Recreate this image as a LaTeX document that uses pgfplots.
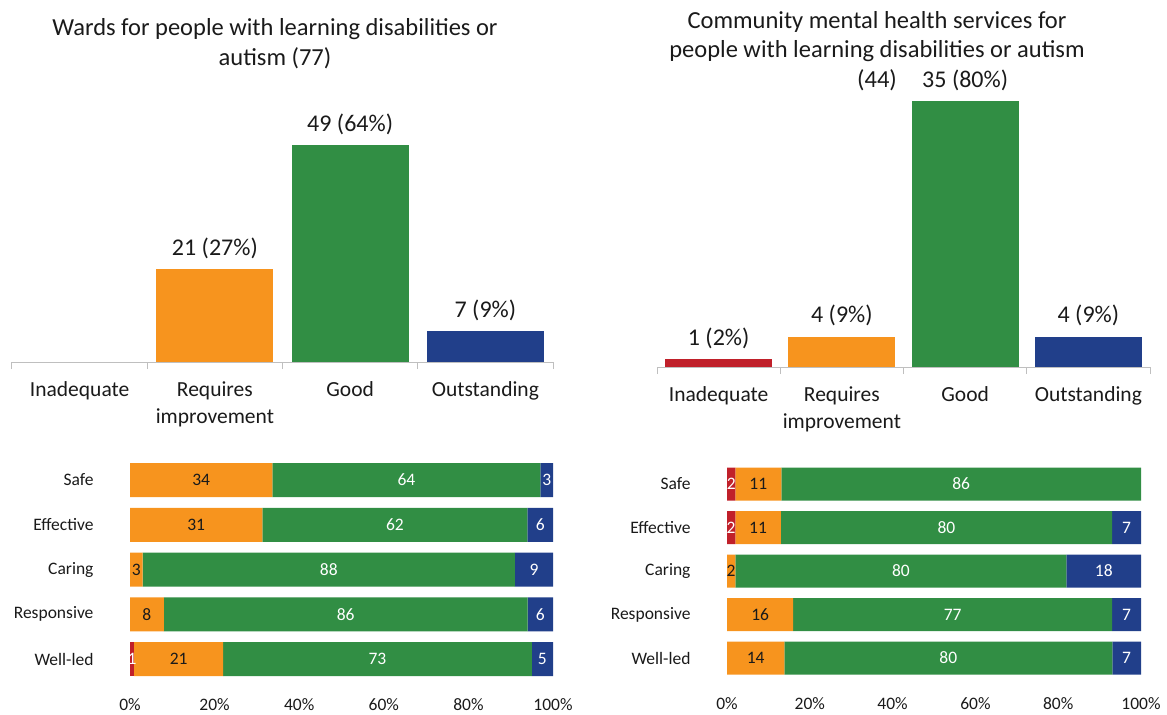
\documentclass[border=0pt]{standalone}
\usepackage{fontspec}
\setmainfont{Carlito}
\usepackage{pgfplots}
\pgfplotsset{compat=1.18}

\definecolor{rInad}{HTML}{C0202A}
\definecolor{rReq}{HTML}{F7941E}
\definecolor{rGood}{HTML}{318E44}
\definecolor{rOut}{HTML}{213F8A}
\definecolor{axgray}{HTML}{BFBFBF}
\definecolor{txt}{HTML}{1A1A1A}

\pgfplotsset{
  ratingcols/.style={
    scale only axis,
    ybar,
    xmin=-0.5, xmax=3.5, ymin=0,
    axis x line*=bottom, axis y line=none,
    x axis line style={axgray, line width=1pt, -},
    xtick={0,1,2,3}, ytick=\empty,
    xticklabels={Inadequate,{Requires\\improvement},Good,Outstanding},
    xticklabel style={align=center, font=\fontsize{21.5}{27}\selectfont, text=txt, yshift=-16pt},
    major tick length=0pt,
    minor xtick={-0.5,0.5,1.5,2.5,3.5},
    minor tick length=7pt,
    tick align=outside,
    minor tick style={axgray, line width=1pt},
    point meta=explicit symbolic,
    nodes near coords,
    nodes near coords style={font=\fontsize{24}{28}\selectfont, text=txt, yshift=7pt},
    clip=false,
  },
  domainbars/.style={
    scale only axis,
    xbar stacked,
    xmin=0, xmax=100, ymin=-0.5, ymax=4.5, y dir=reverse,
    axis line style={draw=none},
    major tick length=0pt,
    ytick={0,1,2,3,4},
    yticklabels={Safe,Effective,Caring,Responsive,Well-led},
    xtick={0,20,40,60,80,100},
    xticklabels={0\%,20\%,40\%,60\%,80\%,100\%},
    yticklabel style={font=\fontsize{17.5}{21}\selectfont, text=txt, xshift=-33pt},
    xticklabel style={font=\fontsize{17.5}{21}\selectfont, text=txt, yshift=-14pt},
    point meta=explicit symbolic,
    nodes near coords,
    nodes near coords style={anchor=center, font=\fontsize{17.5}{21}\selectfont},
    clip=false,
  },
}

\begin{document}
\begin{tikzpicture}
\path (0,0) rectangle (1167pt,-711pt);

% titles
\node[align=center, font=\fontsize{24.5}{30}\selectfont, text=txt] at (275pt,-44pt)
  {Wards for people with learning disabilities or\\autism (77)};
\node[align=center, font=\fontsize{24.5}{29.5}\selectfont, text=txt] at (877pt,-51pt)
  {Community mental health services for\\people with learning disabilities or autism\\(44)};

% top left: wards
\begin{axis}[ratingcols, at={(12pt,-362pt)}, anchor=south west,
  width=541pt, height=265.2pt, ymax=60]
\addplot[fill=rReq, draw=none, bar width=117pt, bar shift=0pt] coordinates {(1,21) [21 (27\%)]};
\addplot[fill=rGood, draw=none, bar width=117pt, bar shift=0pt] coordinates {(2,49) [49 (64\%)]};
\addplot[fill=rOut, draw=none, bar width=117pt, bar shift=0pt] coordinates {(3,7) [7 (9\%)]};
\end{axis}

% top right: community services
\begin{axis}[ratingcols, at={(657pt,-367pt)}, anchor=south west,
  width=493pt, height=273.6pt, ymax=36]
\addplot[fill=rInad, draw=none, bar width=107pt, bar shift=0pt] coordinates {(0,1) [1 (2\%)]};
\addplot[fill=rReq, draw=none, bar width=107pt, bar shift=0pt] coordinates {(1,4) [4 (9\%)]};
\addplot[fill=rGood, draw=none, bar width=107pt, bar shift=0pt] coordinates {(2,35) [35 (80\%)]};
\addplot[fill=rOut, draw=none, bar width=107pt, bar shift=0pt] coordinates {(3,4) [4 (9\%)]};
\end{axis}

% bottom left: key questions, wards (bar lengths scaled to 100%)
\begin{axis}[domainbars, at={(130pt,-681.4pt)}, anchor=south west,
  width=423pt, height=223.75pt, bar width=34pt]
\addplot[fill=rInad, draw=none, nodes near coords style={text=white}] coordinates
  {(0,0) [\empty] (0,1) [\empty] (0,2) [\empty] (0,3) [\empty] (1,4) [1]};
\addplot[fill=rReq, draw=none, nodes near coords style={text=txt}] coordinates
  {(33.66,0) [34] (31.31,1) [31] (3,2) [3] (8,3) [8] (21,4) [21]};
\addplot[fill=rGood, draw=none, nodes near coords style={text=white}] coordinates
  {(63.37,0) [64] (62.63,1) [62] (88,2) [88] (86,3) [86] (73,4) [73]};
\addplot[fill=rOut, draw=none, nodes near coords style={text=white}] coordinates
  {(2.97,0) [3] (6.06,1) [6] (9,2) [9] (6,3) [6] (5,4) [5]};
\end{axis}

% bottom right: key questions, community services
\begin{axis}[domainbars, at={(727pt,-679.75pt)}, anchor=south west,
  width=414pt, height=217.5pt, bar width=33pt]
\addplot[fill=rInad, draw=none, nodes near coords style={text=white}] coordinates
  {(2.02,0) [2] (2,1) [2] (0,2) [\empty] (0,3) [\empty] (0,4) [\empty]};
\addplot[fill=rReq, draw=none, nodes near coords style={text=txt}] coordinates
  {(11.11,0) [11] (11,1) [11] (2,2) [2] (16,3) [16] (13.86,4) [14]};
\addplot[fill=rGood, draw=none, nodes near coords style={text=white}] coordinates
  {(86.87,0) [86] (80,1) [80] (80,2) [80] (77,3) [77] (79.21,4) [80]};
\addplot[fill=rOut, draw=none, nodes near coords style={text=white}] coordinates
  {(0,0) [\empty] (7,1) [7] (18,2) [18] (7,3) [7] (6.93,4) [7]};
\end{axis}
\end{tikzpicture}
\end{document}
